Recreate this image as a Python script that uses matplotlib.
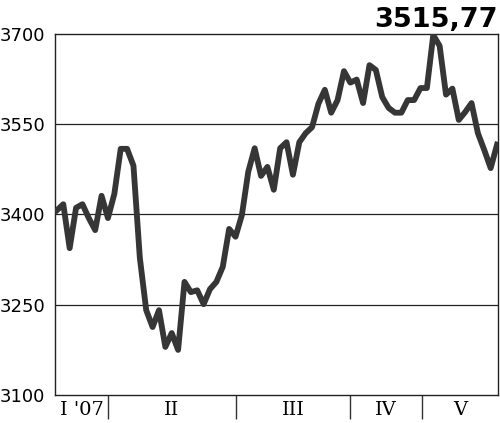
import numpy as np
import matplotlib
matplotlib.use("Agg")
import matplotlib.pyplot as plt

# index values (roughly weekly points)
values = [3407, 3417, 3344, 3411, 3417, 3394, 3374, 3431, 3394, 3434,
          3509, 3509, 3481, 3328, 3241, 3213, 3241, 3180, 3203, 3175,
          3288, 3271, 3274, 3251, 3276, 3288, 3313, 3376, 3363, 3399,
          3471, 3510, 3464, 3479, 3441, 3510, 3520, 3466, 3520, 3535,
          3545, 3584, 3607, 3569, 3590, 3638, 3619, 3624, 3585, 3648,
          3640, 3595, 3577, 3569, 3569, 3590, 3590, 3610, 3610, 3698,
          3680, 3599, 3609, 3557, 3570, 3585, 3535, 3507, 3477, 3516]
last_value = "3515,77"

y_ticks = [3100, 3250, 3400, 3550, 3700]
months = ["I '07", "II", "III", "IV", "V"]
month_starts = [8.0, 28.0, 46.0, 57.2]  # point index where each new month begins

fig = plt.figure(figsize=(5, 4.23), dpi=100)
ax = fig.add_axes([0.11, 0.066, 0.886, 0.854])

x = np.arange(len(values))
ax.plot(x, values, color="#363636", lw=4.2, solid_joinstyle="round", zorder=3)

ax.set_xlim(-0.3, len(values) - 1 + 0.15)
ax.set_ylim(y_ticks[0], y_ticks[-1])

# horizontal grid
for v in y_ticks[1:-1]:
    ax.axhline(v, color="#222222", lw=0.9, zorder=1)

ax.set_yticks(y_ticks)
ax.set_yticklabels([str(v) for v in y_ticks], fontsize=13, family="DejaVu Sans")
ax.tick_params(axis="y", length=0, pad=7)

# month labels centered between separators, separators as long minor ticks
lo, hi = ax.get_xlim()
edges = [lo] + month_starts + [hi]
centers = [(a + b) / 2 for a, b in zip(edges[:-1], edges[1:])]
ax.set_xticks(centers)
ax.set_xticklabels(months, fontsize=14, family="DejaVu Serif")
ax.set_xticks(month_starts, minor=True)
ax.tick_params(axis="x", which="major", length=0, pad=4)
ax.tick_params(axis="x", which="minor", length=17, width=1.0, color="#333333", direction="out")

for s in ax.spines.values():
    s.set_color("#222222")
    s.set_linewidth(1.0)

ax.text(1.0, 1.019, last_value, transform=ax.transAxes, ha="right", va="baseline",
        fontsize=19.5, fontweight="bold", family="DejaVu Sans")

fig.savefig("out.png", dpi=100)
